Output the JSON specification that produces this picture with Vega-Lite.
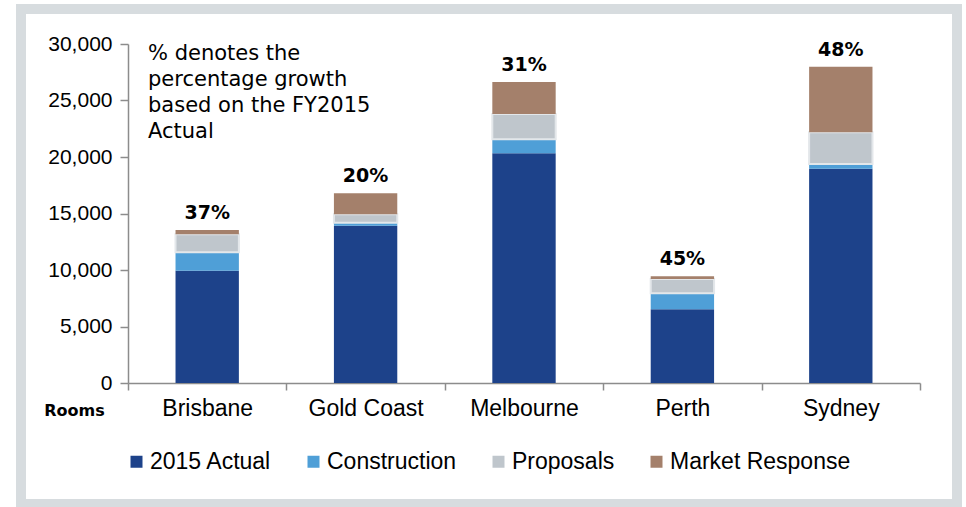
{
  "$schema": "https://vega.github.io/schema/vega-lite/v6.json",
  "width": 936,
  "height": 495,
  "autosize": {"type": "none"},
  "padding": {"left": 21, "top": 9, "right": 9, "bottom": 3},
  "background": "white",
  "config": {"view": {"stroke": "#d7dcdf", "strokeWidth": 10, "fill": "white"}},
  "datasets": {
    "rooms": [
      {"city": "Brisbane", "series": "2015 Actual", "value": 9940},
      {"city": "Brisbane", "series": "Construction", "value": 1630},
      {"city": "Brisbane", "series": "Proposals", "value": 1590},
      {"city": "Brisbane", "series": "Market Response", "value": 380},
      {"city": "Gold Coast", "series": "2015 Actual", "value": 13920},
      {"city": "Gold Coast", "series": "Construction", "value": 270},
      {"city": "Gold Coast", "series": "Proposals", "value": 740},
      {"city": "Gold Coast", "series": "Market Response", "value": 1860},
      {"city": "Melbourne", "series": "2015 Actual", "value": 20330},
      {"city": "Melbourne", "series": "Construction", "value": 1240},
      {"city": "Melbourne", "series": "Proposals", "value": 2240},
      {"city": "Melbourne", "series": "Market Response", "value": 2830},
      {"city": "Perth", "series": "2015 Actual", "value": 6520},
      {"city": "Perth", "series": "Construction", "value": 1420},
      {"city": "Perth", "series": "Proposals", "value": 1260},
      {"city": "Perth", "series": "Market Response", "value": 240},
      {"city": "Sydney", "series": "2015 Actual", "value": 18970},
      {"city": "Sydney", "series": "Construction", "value": 410},
      {"city": "Sydney", "series": "Proposals", "value": 2810},
      {"city": "Sydney", "series": "Market Response", "value": 5800}
    ],
    "growth": [
      {"city": "Brisbane", "label": "37%"},
      {"city": "Gold Coast", "label": "20%"},
      {"city": "Melbourne", "label": "31%"},
      {"city": "Perth", "label": "45%"},
      {"city": "Sydney", "label": "48%"}
    ],
    "note": [
      {"line": ["% denotes the", "percentage growth", "based on the FY2015", "Actual"]}
    ]
  },
  "layer": [
    {
      "data": {"name": "rooms"},
      "transform": [
        {"calculate": "indexof(['2015 Actual','Construction','Proposals','Market Response'], datum.series)", "as": "k"}
      ],
      "mark": {"type": "bar", "width": {"band": 0.4}, "stroke": "#e3e7ea"},
      "encoding": {
        "x": {
          "field": "city", "type": "nominal",
          "sort": ["Brisbane", "Gold Coast", "Melbourne", "Perth", "Sydney"],
          "scale": {"range": [107, 899], "paddingInner": 0, "paddingOuter": 0},
          "axis": {
            "title": null, "offset": -121, "tickBand": "extent", "labelAngle": 0,
            "labelFont": "Liberation Sans", "labelFontSize": 23, "labelColor": "#000000",
            "labelPadding": 7, "tickSize": 7, "domainColor": "#8c8c8c", "tickColor": "#8c8c8c",
            "domainWidth": 1.5, "tickWidth": 1.5
          }
        },
        "y": {
          "field": "value", "type": "quantitative", "stack": "zero",
          "scale": {"domain": [0, 30000], "range": [374, 35], "nice": false},
          "axis": {
            "title": "Rooms", "offset": -107, "values": [0, 5000, 10000, 15000, 20000, 25000, 30000],
            "format": ",d", "grid": false, "tickSize": 8, "labelPadding": 8,
            "labelFont": "Liberation Sans", "labelFontSize": 21, "labelColor": "#000000",
            "domainColor": "#8c8c8c", "tickColor": "#8c8c8c", "domainWidth": 1.5, "tickWidth": 1.5,
            "titleAngle": 0, "titleX": -54, "titleY": 401.5, "titleAlign": "center", "titleBaseline": "middle",
            "titleFont": "DejaVu Sans", "titleFontWeight": "bold", "titleFontSize": 16, "titleColor": "#000000"
          }
        },
        "color": {
          "field": "series", "type": "nominal",
          "sort": ["2015 Actual", "Construction", "Proposals", "Market Response"],
          "scale": {
            "domain": ["2015 Actual", "Construction", "Proposals", "Market Response"],
            "range": ["#1d428a", "#4f9fd7", "#bfc6cc", "#a4806b"]
          },
          "legend": {
            "orient": "none", "legendX": 104, "legendY": 441, "direction": "horizontal", "columns": 4,
            "title": null, "symbolType": "square", "symbolSize": 144, "symbolStrokeWidth": 0,
            "labelFont": "Liberation Sans", "labelFontSize": 23, "labelColor": "#000000", "labelLimit": 400,
            "columnPadding": 30, "labelOffset": 2
          }
        },
        "order": {"field": "k"},
        "strokeWidth": {"condition": {"test": "datum.series === 'Proposals'", "value": 2}, "value": 0}
      }
    },
    {
      "data": {"name": "rooms"},
      "transform": [
        {"aggregate": [{"op": "sum", "field": "value", "as": "total"}], "groupby": ["city"]},
        {"lookup": "city", "from": {"data": {"name": "growth"}, "key": "city", "fields": ["label"]}}
      ],
      "mark": {"type": "text", "baseline": "bottom", "align": "center", "dy": -7, "font": "DejaVu Sans", "fontWeight": "bold", "fontSize": 19, "color": "#000000"},
      "encoding": {
        "x": {"field": "city", "type": "nominal", "sort": ["Brisbane", "Gold Coast", "Melbourne", "Perth", "Sydney"]},
        "y": {"field": "total", "type": "quantitative", "title": "Rooms"},
        "text": {"field": "label"}
      }
    },
    {
      "data": {"name": "note"},
      "mark": {
        "type": "text", "align": "left", "baseline": "top", "dx": 20, "dy": -1,
        "font": "DejaVu Sans", "fontSize": 21, "lineHeight": 26, "color": "#000000"
      },
      "encoding": {
        "x": {"datum": "Brisbane", "type": "nominal", "bandPosition": 0},
        "y": {"datum": 30000, "type": "quantitative", "title": "Rooms"},
        "text": {"field": "line"}
      }
    }
  ]
}
